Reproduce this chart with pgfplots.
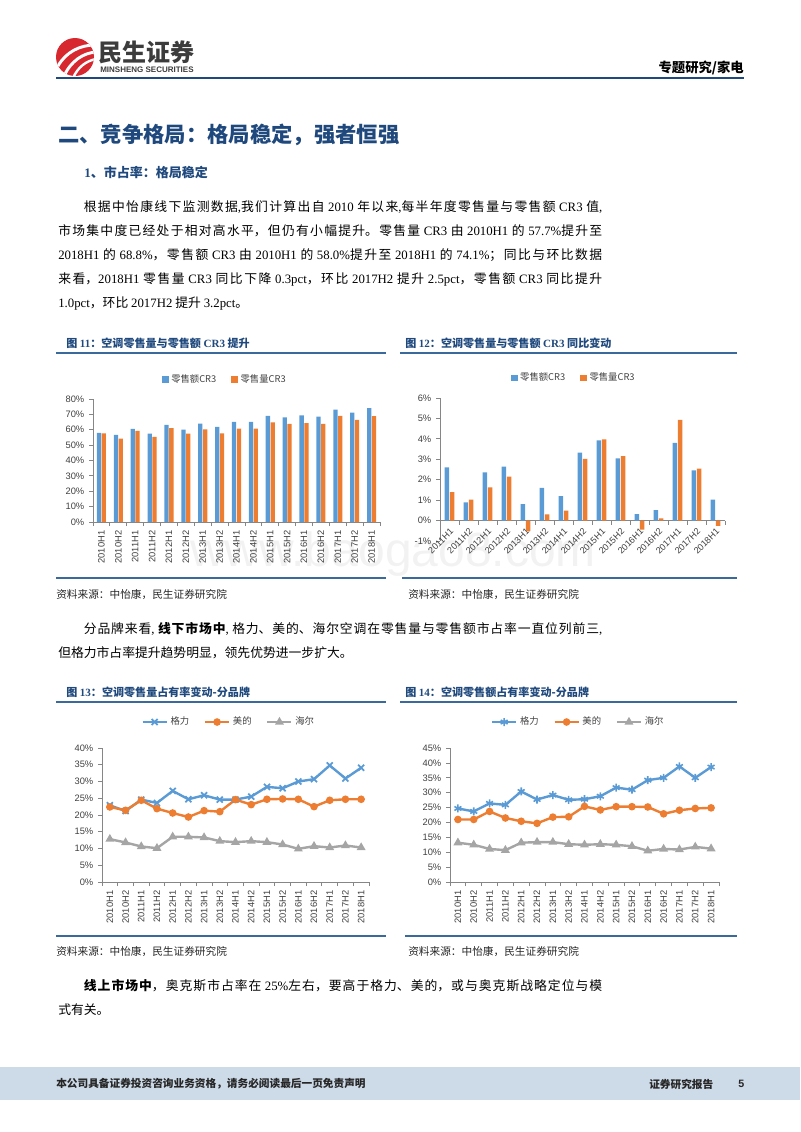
\documentclass[border=0pt]{standalone}
\usepackage{pgfplots}
\pgfplotsset{compat=1.18}
\usepackage{fontspec}
\setmainfont{Noto Sans CJK SC}
\setsansfont{Liberation Sans}
\newfontfamily\tnr{Liberation Serif}
\newfontfamily\arial{Liberation Sans}

\definecolor{cblue}{HTML}{5B9BD5}
\definecolor{corange}{HTML}{ED7D31}
\definecolor{cgray}{HTML}{A5A5A5}
\definecolor{axgray}{HTML}{868686}
\definecolor{lblgray}{HTML}{404040}
\definecolor{navy}{HTML}{1F497D}
\definecolor{rulec}{HTML}{3A6A9C}
\definecolor{band}{HTML}{CDDAE8}
\definecolor{logored}{HTML}{D7282F}
\definecolor{logotext}{HTML}{3C3C3C}

\newcommand{\R}[1]{{\tnr #1}}
\newcommand{\bodyfont}{\fontsize{9.6}{18}\selectfont\XeTeXlinebreaklocale "zh"\XeTeXlinebreakskip=0pt plus 2pt\relax\tolerance=10000\hbadness=10000\parfillskip=0pt plus 1fil\relax}

\pgfplotsset{
  excel/.style={
    scale only axis,
    clip=false,
    axis lines*=left,
    axis line style={draw=axgray, line width=0.6pt},
    tick style={draw=axgray, line width=0.6pt},
    major x tick style={draw=none},
    tick align=outside,
    major tick length=3pt,
    minor tick length=3pt,
    ticklabel style={font=\arial\fontsize{7}{8}\selectfont, text=lblgray},
    /pgf/number format/assume math mode=true,
    legend style={draw=none, fill=none, font=\fontsize{7}{8}\selectfont, text=lblgray,
      legend columns=-1, /tikz/every even column/.append style={column sep=9pt}},
  },
  linelegend/.style={legend image code/.code={\draw[mark repeat=2,mark phase=2,##1] plot coordinates {(0pt,0pt) (9pt,0pt) (18pt,0pt)};}},
  /pgfplots/ybar legend/.style={/pgfplots/legend image code/.code={\fill[##1,draw=none] (0pt,-2.6pt) rectangle (5.2pt,2.6pt);}},
}

\begin{document}
\begin{tikzpicture}
\path[use as bounding box] (0pt,0pt) rectangle (600pt,-849pt);
\begin{scope}[x=0.75pt,y=-0.75pt]
  % footer band
  \fill[band] (0,1067) rectangle (800,1100);
  % watermark
  \node[anchor=base west,inner sep=0pt,font=\arial\fontsize{36}{36}\selectfont,text=black!5] at (190,566) {www.baogao8.com};
  % logo
  \fill[logored] (75,57) circle (14.25pt);
  \begin{scope}
    \clip (75,57) circle (14.25pt);
    \draw[white,line width=2.2pt] (58,66) .. controls (66,52) and (80,45) .. (95,45);
    \draw[white,line width=2.2pt] (64,76) .. controls (71,61) and (83,53) .. (96,52);
    \draw[white,line width=1.8pt] (73,78) .. controls (78,67) and (86,61) .. (96,59);
  \end{scope}
  \node[anchor=west,inner sep=0pt,font=\bfseries\fontsize{18}{18}\selectfont,text=logotext] at (98,52) {民生证券};
  \node[anchor=west,inner sep=0pt,font=\arial\bfseries\fontsize{6}{6}\selectfont,text=logotext] at (100,69.5) {MINSHENG SECURITIES};
  \node[anchor=east,inner sep=0pt,font=\bfseries\fontsize{10}{10}\selectfont] at (744,68) {专题研究/家电};
  \draw[navy,line width=1.5pt] (56,77.5) -- (744,77.5);
  % title
  \node[anchor=west,inner sep=0pt,font=\bfseries\fontsize{16}{16}\selectfont,text=navy] at (58,135) {二、竞争格局：格局稳定，强者恒强};
  \node[anchor=west,inner sep=0pt,font=\bfseries\fontsize{9.75}{10}\selectfont,text=navy] at (84,172) {\R{\bfseries 1}、市占率：格局稳定};
  % paragraph 1
  \node[anchor=north west,inner sep=0pt,text width=408pt,align=justify,font=\bodyfont] at (58,200.5) {\hspace*{2em}根据中怡康线下监测数据\R{,}我们计算出自 \R{2010} 年以来\R{,}每半年度零售量与零售额 \R{CR3} 值\R{,}\linebreak
市场集中度已经处于相对高水平，但仍有小幅提升。零售量 \R{CR3} 由 \R{2010H1} 的 \R{57.7\%}提升至\linebreak
\R{2018H1} 的 \R{68.8\%}，零售额 \R{CR3} 由 \R{2010H1} 的 \R{58.0\%}提升至 \R{2018H1} 的 \R{74.1\%}；同比与环比数据\linebreak
来看，\R{2018H1} 零售量 \R{CR3} 同比下降 \R{0.3pct}，环比 \R{2017H2} 提升 \R{2.5pct}，零售额 \R{CR3} 同比提升\linebreak
\R{1.0pct}，环比 \R{2017H2} 提升 \R{3.2pct}。};
  % chart titles row 1
  \node[anchor=west,inner sep=0pt,font=\bfseries\fontsize{8.3}{9}\selectfont,text=navy] at (66,343) {图 \R{\bfseries 11}：空调零售量与零售额 \R{\bfseries CR3} 提升};
  \node[anchor=west,inner sep=0pt,font=\bfseries\fontsize{8.3}{9}\selectfont,text=navy] at (405,343) {图 \R{\bfseries 12}：空调零售量与零售额 \R{\bfseries CR3} 同比变动};
  \draw[rulec,line width=1.3pt] (56,353) -- (386,353);
  \draw[rulec,line width=1.3pt] (400,353) -- (737,353);
  \draw[rulec,line width=1.3pt] (56,578) -- (386,578);
  \draw[rulec,line width=1.3pt] (402,578) -- (737,578);
  \node[anchor=west,inner sep=0pt,font=\fontsize{8}{9}\selectfont,text=black!85] at (56,595) {资料来源：中怡康，民生证券研究院};
  \node[anchor=west,inner sep=0pt,font=\fontsize{8}{9}\selectfont,text=black!85] at (408,595) {资料来源：中怡康，民生证券研究院};
  % paragraph 2
  \node[anchor=north west,inner sep=0pt,text width=408pt,align=justify,font=\bodyfont] at (58,622.5) {\hspace*{2em}分品牌来看\R{,} {\bfseries 线下市场中}\R{,} 格力、美的、海尔空调在零售量与零售额市占率一直位列前三\R{,}\linebreak
但格力市占率提升趋势明显，领先优势进一步扩大。};
  % chart titles row 2
  \node[anchor=west,inner sep=0pt,font=\bfseries\fontsize{8.3}{9}\selectfont,text=navy] at (66,692) {图 \R{\bfseries 13}：空调零售量占有率变动-分品牌};
  \node[anchor=west,inner sep=0pt,font=\bfseries\fontsize{8.3}{9}\selectfont,text=navy] at (405,692) {图 \R{\bfseries 14}：空调零售额占有率变动-分品牌};
  \draw[rulec,line width=1.3pt] (56,702) -- (386,702);
  \draw[rulec,line width=1.3pt] (400,702) -- (737,702);
  \draw[rulec,line width=1.3pt] (56,936) -- (386,936);
  \draw[rulec,line width=1.3pt] (405,936) -- (737,936);
  \node[anchor=west,inner sep=0pt,font=\fontsize{8}{9}\selectfont,text=black!85] at (56,952) {资料来源：中怡康，民生证券研究院};
  \node[anchor=west,inner sep=0pt,font=\fontsize{8}{9}\selectfont,text=black!85] at (408,952) {资料来源：中怡康，民生证券研究院};
  % paragraph 3
  \node[anchor=north west,inner sep=0pt,text width=408pt,align=justify,font=\bodyfont] at (58,979.5) {\hspace*{2em}{\bfseries 线上市场中}，奥克斯市占率在 \R{25\%}左右，要高于格力、美的，或与奥克斯战略定位与模\linebreak
式有关。};
  % footer
  \node[anchor=west,inner sep=0pt,font=\bfseries\fontsize{8}{9}\selectfont,text=black!85] at (56,1084) {本公司具备证券投资咨询业务资格，请务必阅读最后一页免责声明};
  \node[anchor=west,inner sep=0pt,font=\bfseries\fontsize{8}{9}\selectfont,text=black!85] at (649,1084) {证券研究报告};
  \node[anchor=west,inner sep=0pt,font=\arial\bfseries\fontsize{8}{9}\selectfont,text=black!85] at (738,1084) {5};
\end{scope}

% ---------- Fig 11 ----------
\begin{axis}[excel, at={(69.75pt,-391.5pt)}, anchor=south west,
  width=215.25pt, height=92.25pt,
  ybar=0.4pt, bar width=3.2pt,
  xmin=-0.5, xmax=16.5, ymin=0, ymax=80,
  ytick={0,10,20,30,40,50,60,70,80},
  yticklabels={0\%,10\%,20\%,30\%,40\%,50\%,60\%,70\%,80\%},
  xtick={0,...,16},
  xticklabels={2010H1,2010H2,2011H1,2011H2,2012H1,2012H2,2013H1,2013H2,2014H1,2014H2,2015H1,2015H2,2016H1,2016H2,2017H1,2017H2,2018H1},
  xticklabel style={rotate=90, anchor=east},
  minor xtick={-0.5,0.5,...,16.5},
  legend style={at={(0.46,1.155)}, anchor=center},
]
\addplot[fill=cblue, draw=none] coordinates {(0,58.0) (1,56.6) (2,60.6) (3,57.5) (4,63.1) (5,60.1) (6,64.0) (7,61.8) (8,65.1) (9,65.1) (10,69.0) (11,68.1) (12,69.3) (13,68.6) (14,73.1) (15,71.1) (16,74.1)};
\addplot[fill=corange, draw=none] coordinates {(0,57.7) (1,54.2) (2,59.2) (3,55.3) (4,61.0) (5,57.5) (6,60.3) (7,57.7) (8,60.7) (9,60.7) (10,64.8) (11,63.8) (12,64.3) (13,63.9) (14,69.1) (15,66.5) (16,68.8)};
\legend{零售额CR3,零售量CR3}
\end{axis}

% ---------- Fig 12 ----------
\begin{axis}[excel, axis x line*=middle, at={(330pt,-405.75pt)}, anchor=south west,
  width=213.75pt, height=107.25pt,
  ybar=0.4pt, bar width=3.4pt,
  xmin=-0.5, xmax=14.5, ymin=-1, ymax=6,
  ytick={-1,0,1,2,3,4,5,6},
  yticklabels={-1\%,0\%,1\%,2\%,3\%,4\%,5\%,6\%},
  xtick={0,...,14},
  xticklabels={2011H1,2011H2,2012H1,2012H2,2013H1,2013H2,2014H1,2014H2,2015H1,2015H2,2016H1,2016H2,2017H1,2017H2,2018H1},
  xticklabel style={rotate=45, anchor=north east, font=\arial\fontsize{6.8}{7}\selectfont, inner sep=1.5pt},
  minor xtick={-0.5,0.5,...,14.5},
  legend style={at={(0.47,1.14)}, anchor=center},
]
\addplot[fill=cblue, draw=none] coordinates {(0,2.6) (1,0.89) (2,2.36) (3,2.64) (4,0.8) (5,1.6) (6,1.2) (7,3.33) (8,3.93) (9,3.05) (10,0.31) (11,0.51) (12,3.8) (13,2.46) (14,1.03)};
\addplot[fill=corange, draw=none] coordinates {(0,1.39) (1,1.02) (2,1.62) (3,2.15) (4,-0.52) (5,0.3) (6,0.49) (7,3.02) (8,3.98) (9,3.15) (10,-0.44) (11,0.11) (12,4.93) (13,2.54) (14,-0.26)};
\legend{零售额CR3,零售量CR3}
\end{axis}

% ---------- Fig 13 ----------
\begin{axis}[excel, linelegend, at={(76.5pt,-661.5pt)}, anchor=south west,
  width=200.25pt, height=100.5pt,
  xmin=-0.5, xmax=16.5, ymin=0, ymax=40,
  ytick={0,5,10,15,20,25,30,35,40},
  yticklabels={0\%,5\%,10\%,15\%,20\%,25\%,30\%,35\%,40\%},
  xtick={0,...,16},
  xticklabels={2010H1,2010H2,2011H1,2011H2,2012H1,2012H2,2013H1,2013H2,2014H1,2014H2,2015H1,2015H2,2016H1,2016H2,2017H1,2017H2,2018H1},
  xticklabel style={rotate=90, anchor=east},
  minor xtick={-0.5,0.5,...,16.5},
  legend style={at={(0.476,1.194)}, anchor=center},
]
\addplot[color=cblue, line width=1.8pt, mark=x, mark size=3.2pt, mark options={line width=1.3pt}] coordinates {(0,22.9) (1,21.2) (2,24.6) (3,23.6) (4,27.2) (5,24.7) (6,25.9) (7,24.6) (8,24.6) (9,25.5) (10,28.4) (11,28.0) (12,30.0) (13,30.7) (14,34.8) (15,30.9) (16,34.1)};
\addplot[color=corange, line width=1.8pt, mark=*, mark size=1.9pt] coordinates {(0,22.4) (1,21.4) (2,24.4) (3,21.9) (4,20.6) (5,19.4) (6,21.3) (7,21.0) (8,24.6) (9,23.1) (10,24.7) (11,24.8) (12,24.7) (13,22.5) (14,24.4) (15,24.7) (16,24.7)};
\addplot[color=cgray, line width=1.8pt, mark=triangle*, mark size=2.1pt] coordinates {(0,12.8) (1,11.8) (2,10.6) (3,10.1) (4,13.5) (5,13.5) (6,13.3) (7,12.2) (8,11.9) (9,12.2) (10,11.9) (11,11.2) (12,9.9) (13,10.7) (14,10.3) (15,10.9) (16,10.3)};
\legend{格力,美的,海尔}
\end{axis}

% ---------- Fig 14 ----------
\begin{axis}[excel, linelegend, at={(337.5pt,-661.5pt)}, anchor=south west,
  width=201.75pt, height=100.5pt,
  xmin=-0.5, xmax=16.5, ymin=0, ymax=45,
  ytick={0,5,10,15,20,25,30,35,40,45},
  yticklabels={0\%,5\%,10\%,15\%,20\%,25\%,30\%,35\%,40\%,45\%},
  xtick={0,...,16},
  xticklabels={2010H1,2010H2,2011H1,2011H2,2012H1,2012H2,2013H1,2013H2,2014H1,2014H2,2015H1,2015H2,2016H1,2016H2,2017H1,2017H2,2018H1},
  xticklabel style={rotate=90, anchor=east},
  minor xtick={-0.5,0.5,...,16.5},
  legend style={at={(0.478,1.194)}, anchor=center},
]
\addplot[color=cblue, line width=1.8pt, mark=asterisk, mark size=3pt, mark options={line width=1.2pt}] coordinates {(0,24.7) (1,23.7) (2,26.4) (3,25.9) (4,30.4) (5,27.7) (6,29.2) (7,27.6) (8,27.8) (9,28.8) (10,31.7) (11,31.0) (12,34.2) (13,35.0) (14,38.8) (15,35.0) (16,38.6)};
\addplot[color=corange, line width=1.8pt, mark=*, mark size=1.9pt] coordinates {(0,21.0) (1,21.0) (2,23.7) (3,21.5) (4,20.4) (5,19.7) (6,21.8) (7,21.9) (8,25.4) (9,24.2) (10,25.3) (11,25.3) (12,25.2) (13,22.9) (14,24.1) (15,24.7) (16,24.9)};
\addplot[color=cgray, line width=1.8pt, mark=triangle*, mark size=2.1pt] coordinates {(0,13.2) (1,12.5) (2,11.1) (3,10.7) (4,13.2) (5,13.4) (6,13.4) (7,12.7) (8,12.5) (9,12.7) (10,12.5) (11,12.0) (12,10.5) (13,11.1) (14,10.9) (15,11.8) (16,11.2)};
\legend{格力,美的,海尔}
\end{axis}
\end{tikzpicture}
\end{document}
